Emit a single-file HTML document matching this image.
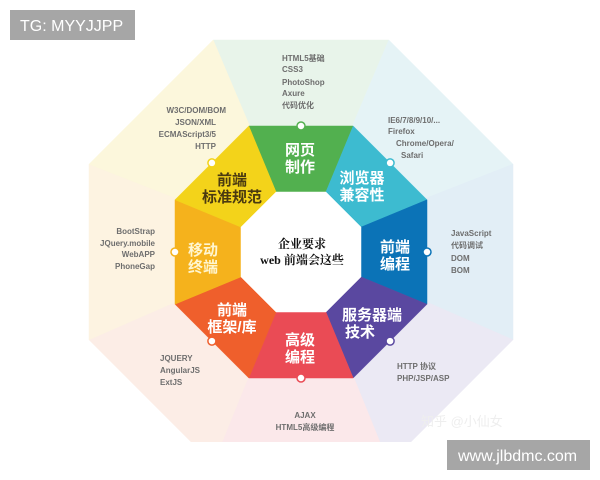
<!DOCTYPE html>
<html><head><meta charset="utf-8"><style>
html,body{margin:0;padding:0;background:#fff;width:600px;height:480px;overflow:hidden}
svg{display:block}
.s{font-family:"Liberation Sans","Noto Sans CJK SC",sans-serif;font-size:8px;font-weight:bold;fill:#6e6e6e}
.w{font-family:"Liberation Sans","Noto Sans CJK SC",sans-serif;font-size:15px;font-weight:bold;fill:#fff;text-anchor:middle}
</style></head><body>
<svg id="v" width="600" height="480" viewBox="0 0 600 480">
<defs><clipPath id="cp"><rect x="80" y="38" width="442" height="404"/></clipPath></defs>
<g id="bg" clip-path="url(#cp)"></g><g id="fg"></g><g id="in"></g>
<g id="dots"></g>
<text x="302" y="248" text-anchor="middle" style="font-family:'Liberation Serif','Noto Serif CJK SC',serif;font-size:12px;font-weight:bold;fill:#111">企业要求</text>
<text x="302" y="264" text-anchor="middle" style="font-family:'Liberation Serif','Noto Serif CJK SC',serif;font-size:12px;font-weight:bold;fill:#111">web 前端会这些</text>
<text class="w" x="300" y="155">网页</text><text class="w" x="300" y="172">制作</text>
<text class="w" x="362" y="183">浏览器</text><text class="w" x="362" y="200">兼容性</text>
<text class="w" x="395" y="252">前端</text><text class="w" x="395" y="269">编程</text>
<text class="w" x="372" y="320">服务器端</text><text class="w" x="360" y="337">技术</text>
<text class="w" x="300" y="345">高级</text><text class="w" x="300" y="362">编程</text>
<text class="w" x="232" y="315">前端</text><text class="w" x="232" y="332">框架/库</text>
<text class="w" x="203" y="255" style="fill:#fff6d0">移动</text><text class="w" x="203" y="272" style="fill:#fff6d0">终端</text>
<text class="w" x="232" y="185" style="fill:#4a3a10">前端</text><text class="w" x="232" y="202" style="fill:#4a3a10">标准规范</text>
<g class="s">
<text x="282" y="61">HTML5基础</text><text x="282" y="72">CSS3</text><text x="282" y="85">PhotoShop</text><text x="282" y="96">Axure</text><text x="282" y="108">代码优化</text>
<g text-anchor="end"><text x="226" y="113">W3C/DOM/BOM</text><text x="216" y="125">JSON/XML</text><text x="216" y="137">ECMAScript3/5</text><text x="216" y="149">HTTP</text></g>
<text x="388" y="123">IE6/7/8/9/10/...</text><text x="388" y="134">Firefox</text><text x="396" y="146">Chrome/Opera/</text><text x="401" y="158">Safari</text>
<g text-anchor="end"><text x="155" y="234">BootStrap</text><text x="155" y="246">JQuery.mobile</text><text x="155" y="257">WebAPP</text><text x="155" y="269">PhoneGap</text></g>
<text x="451" y="236">JavaScript</text><text x="451" y="248">代码调试</text><text x="451" y="261">DOM</text><text x="451" y="273">BOM</text>
<text x="160" y="361">JQUERY</text><text x="160" y="373">AngularJS</text><text x="160" y="385">ExtJS</text>
<text x="397" y="369">HTTP 协议</text><text x="397" y="381">PHP/JSP/ASP</text>
<text x="305" y="418" text-anchor="middle">AJAX</text><text x="305" y="430" text-anchor="middle">HTML5高级编程</text>
</g>
<text x="421" y="426" style="font-family:'Liberation Sans','Noto Sans CJK SC',sans-serif;font-size:13px;fill:#eee">知乎 @小仙女</text>
<rect x="10" y="10" width="125" height="30" fill="#a6a6a6"/>
<text x="20" y="31" style="font-family:'Liberation Sans',sans-serif;font-size:16px;fill:#fff">TG: MYYJJPP</text>
<rect x="447" y="440" width="143" height="30" fill="#a6a6a6"/>
<text x="458" y="461" style="font-family:'Liberation Sans',sans-serif;font-size:16px;fill:#fff">www.jlbdmc.com</text>
</svg>
<script>
var cx=301,cy=252,NS="http://www.w3.org/2000/svg";
function pt(a,ang){var R=a/Math.cos(Math.PI/8),t=ang*Math.PI/180;return [cx+R*Math.cos(t),cy+R*Math.sin(t)];}
function poly(g,pts,fill){var p=document.createElementNS(NS,"polygon");p.setAttribute("points",pts.map(function(q){return q[0].toFixed(1)+","+q[1].toFixed(1)}).join(" "));p.setAttribute("fill",fill);p.setAttribute("stroke",fill);p.setAttribute("stroke-width","0.5");document.getElementById(g).appendChild(p);}
var strong=["#52b04f","#3dbbd0","#0b73b7","#5a48a0","#ea4b55","#ef5f2c","#f5b21c","#f3d31a"];
var pale=["#e8f4ea","#e5f3f6","#e2eef6","#ebe9f4","#fbe8ea","#fcede6","#fdf3e1","#fcf7dc"];
for(var k=0;k<8;k++){var a1=-112.5+45*k,a2=a1+45;
poly("bg",[[cx,cy-5],pt(212,a1),pt(212,a2)],pale[k]);
poly("fg",[pt(60,a1),pt(126,a1),pt(126,a2),pt(60,a2)],strong[k]);
var m=(a1+a2)/2*Math.PI/180,R=126,c=document.createElementNS(NS,"circle");
c.setAttribute("cx",cx+R*Math.cos(m));c.setAttribute("cy",cy+R*Math.sin(m));c.setAttribute("r","4");c.setAttribute("fill","#fff");c.setAttribute("stroke",strong[k]);c.setAttribute("stroke-width","1.5");document.getElementById("dots").appendChild(c);}
var ip=[];for(var k=0;k<8;k++)ip.push(pt(60,-112.5+45*k));poly("in",ip,"#fff");
</script>
</body></html>
